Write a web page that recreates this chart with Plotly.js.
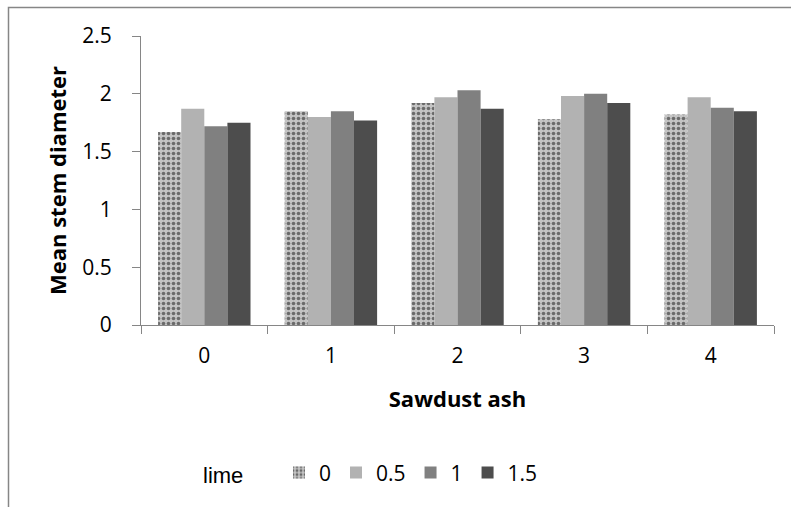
<!DOCTYPE html>
<html>
<head>
<meta charset="utf-8">
<script src="https://cdn.plot.ly/plotly-3.0.1.min.js"></script>
<style>html,body{margin:0;padding:0;background:#fff;}#chart{width:791px;height:507px;}</style>
</head>
<body>
<div id="chart"></div>
<script>
// Data
var sawdustAsh = ['0', '1', '2', '3', '4'];
var limeLevels = ['0', '0.5', '1', '1.5'];
var lime0   = [1.67, 1.85, 1.92, 1.78, 1.82];
var lime05  = [1.87, 1.80, 1.97, 1.98, 1.97];
var lime1   = [1.72, 1.85, 2.03, 2.00, 1.88];
var lime15  = [1.75, 1.77, 1.87, 1.92, 1.85];
var seriesValues = [lime0, lime05, lime1, lime15];

var fills = [
  {color: '#b8b8b8', pattern: {shape: '.', bgcolor: '#c4c4c4', fgcolor: '#6a6a6a', size: 5, solidity: 0.4}},
  {color: '#b2b2b2'},
  {color: '#808080'},
  {color: '#4d4d4d'}
];

var traces = limeLevels.map(function (lv, i) {
  var m = {color: fills[i].color, line: {width: 0}};
  if (fills[i].pattern) m.pattern = fills[i].pattern;
  return {
    type: 'bar',
    name: lv,
    x: sawdustAsh,
    y: seriesValues[i],
    marker: m
  };
});

var axisGray = '#868686';
var font = '"Open Sans", Lato, sans-serif';

var layout = {
  width: 791,
  height: 507,
  margin: {l: 141, r: 17, t: 36, b: 182},
  paper_bgcolor: '#ffffff',
  plot_bgcolor: '#ffffff',
  barmode: 'group',
  bargap: 0.27,
  bargroupgap: 0,
  font: {family: font, size: 21, color: '#000'},
  xaxis: {
    type: 'category',
    showline: true,
    linecolor: axisGray,
    linewidth: 1,
    ticks: 'outside',
    tickson: 'boundaries',
    ticklen: 8,
    tickcolor: axisGray,
    ticklabelstandoff: 12,
    showgrid: false,
    tickfont: {family: font, size: 21},
    title: {text: '<b>Sawdust ash</b>', font: {family: font, size: 22}, standoff: 23}
  },
  yaxis: {
    range: [0, 2.5],
    dtick: 0.5,
    showline: true,
    linecolor: axisGray,
    linewidth: 1,
    ticks: 'outside',
    ticklen: 8,
    tickcolor: axisGray,
    ticklabelstandoff: 16,
    showgrid: false,
    zeroline: false,
    tickfont: {family: font, size: 21},
    title: {text: '<b>Mean stem diameter</b>', font: {family: font, size: 22}, standoff: 9}
  },
  showlegend: true,
  legend: {
    orientation: 'h',
    x: 0.218,
    xanchor: 'left',
    y: -0.512,
    yanchor: 'middle',
    font: {family: font, size: 21},
    itemwidth: 30,
    bgcolor: 'rgba(0,0,0,0)'
  },
  annotations: [{
    xref: 'paper', yref: 'paper',
    x: (223 - 141) / 633, y: (325 - 475) / 289,
    xanchor: 'center', yanchor: 'middle',
    text: 'lime', showarrow: false,
    font: {family: '"Liberation Sans", Arial, sans-serif', size: 22, color: '#000'}
  }],
  shapes: [{
    type: 'path', xref: 'paper', yref: 'paper',
    path: 'M ' + ((8.5 - 141) / 633) + ' ' + ((325 - 510) / 289) +
          ' L ' + ((8.5 - 141) / 633) + ' ' + ((325 - 7.5) / 289) +
          ' L ' + ((795 - 141) / 633) + ' ' + ((325 - 7.5) / 289),
    line: {color: axisGray, width: 1.5}
  }]
};

Plotly.newPlot('chart', traces, layout, {displayModeBar: false, staticPlot: true});
</script>
</body>
</html>
